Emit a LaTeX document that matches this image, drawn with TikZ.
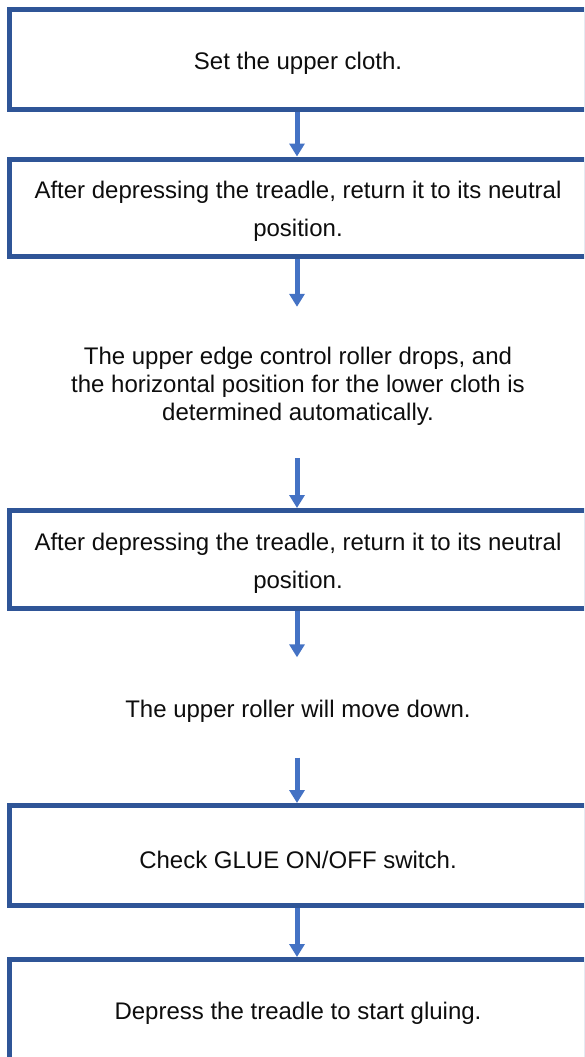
\documentclass[tikz,border=0pt]{standalone}
\usepackage{fontspec}
\setmainfont{Liberation Sans}
\usetikzlibrary{arrows.meta}
\definecolor{boxblue}{HTML}{2F5597}
\definecolor{arrowblue}{HTML}{4472C4}
\definecolor{txt}{HTML}{0D0D0D}
\newcommand{\lowerstrut}{\rule{0pt}{25.5pt}}
\begin{document}
\begin{tikzpicture}[x=1pt,y=-1pt,
  stepbox/.style={draw=boxblue, line width=5pt, minimum width=577pt, inner sep=0pt,
    align=center, font=\fontsize{24}{38}\selectfont, text=txt},
  freetext/.style={inner sep=0pt, align=center, font=\fontsize{24}{28}\selectfont, text=txt},
  flow/.style={draw=arrowblue, line width=5pt, -{Triangle[width=15pt,length=13pt]}}]
\clip (0,0) rectangle (584,1057);
\node[stepbox, minimum height=100pt] (b1) at (298,59.5) {\lowerstrut Set the upper cloth.};
\node[stepbox, minimum height=97pt] (b2) at (298,207.5) {\lowerstrut After depressing the treadle, return it to its neutral\\position.};
\node[freetext, minimum height=151pt] (t1) at (298,382.5) {\lowerstrut The upper edge control roller drops, and\\the horizontal position for the lower cloth is\\determined automatically.};
\node[stepbox, minimum height=98pt] (b3) at (298,559.5) {\lowerstrut After depressing the treadle, return it to its neutral\\position.};
\node[freetext, minimum height=100pt] (t2) at (298,707.5) {\lowerstrut The upper roller will move down.};
\node[stepbox, minimum height=100pt] (b4) at (298,855.5) {\lowerstrut Check GLUE ON/OFF switch.};
\node[stepbox, minimum height=100pt] (b5) at (298,1009.5) {\lowerstrut Depress the treadle to start gluing.};
\draw[flow] ([xshift=-1pt]b1.south) -- ([xshift=-1pt]b2.north);
\draw[flow] ([xshift=-1pt]b2.south) -- ([xshift=-1pt]t1.north);
\draw[flow] ([xshift=-1pt]t1.south) -- ([xshift=-1pt]b3.north);
\draw[flow] ([xshift=-1pt]b3.south) -- ([xshift=-1pt]t2.north);
\draw[flow] ([xshift=-1pt]t2.south) -- ([xshift=-1pt]b4.north);
\draw[flow] ([xshift=-1pt]b4.south) -- ([xshift=-1pt]b5.north);
\end{tikzpicture}
\end{document}
